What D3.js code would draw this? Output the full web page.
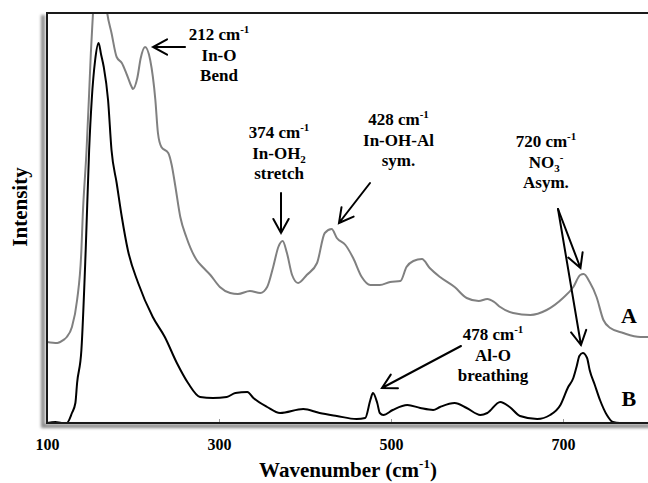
<!DOCTYPE html>
<html><head><meta charset="utf-8">
<script src="https://cdn.jsdelivr.net/npm/d3@7/dist/d3.min.js"></script>
<style>
body{margin:0;background:#fff}
svg{display:block}
text{font-family:"Liberation Serif","Times New Roman",serif;font-weight:bold;fill:#000}
</style>
</head><body>
<svg id="chart" width="648" height="483"></svg>
<script>
// Series A (grey, upper trace)
const aWave = [100,112,119,123,129,135,140,141.5,146,149,151,153.5,156,161,166,170,175,181,187,193,198.5,200,205,209,214,220,226,229,233,241,245,249,255,262,274,281,290,301,313,322,336,348,356,363,369,374,379,385,392,402,414,423,431,437,447,456,466,476,487,499,511,518,526,536,545,557,574,588,602,612,620,627,642,662,681,700,712,720,724,731,739,747,755,770,790,800];
const aInt  = [81,80,83,86,96,123,173,206,273,330,370,410,450,480,440,410,390,366,360,348,336,334,345,365,376,363,323,290,276,270,258,238,206,186,163,156,148,136,130,129,132,130,136,156,176,182,170,148,140,148,160,190,194,185,178,165,146,138,138,141,142,156,162,164,155,146,136,125,122,124,121,116,110,108,113,125,136,148,149,141,126,103,95,90,86,86];
// Series B (black, lower trace)
const bWave = [100,110,117,123,129,133,135,140,145,149,152,156,160,163,166,171,175,181,187,194,206,223,237,251,264,278,293,309,319,333,340,356,371,398,417,437,460,470,476,479,484,487,491,502,519,534,549,557,574,588,604,612,627,638,650,670,685,697,706,712,716,719,723,728,731,737,743,751,758,766,800];
const bInt  = [0,1,0,0,10,20,40,73,173,273,323,363,380,368,356,323,273,240,206,173,140,106,86,60,40,26,25,26,30,31,25,16,10,14,10,7,4,5,23,30,20,10,8,13,18,15,13,16,20,15,8,10,21,16,7,4,8,18,36,45,57,67,70,65,53,38,23,8,1,0,0];

const xTicks = [100, 300, 500, 700];
const xDomain = [100, 800];
const yDomain = [0, 410];
const xTitle = "Wavenumber (cm^{-1})";
const yTitle = "Intensity";
const seriesNames = ["A", "B"];
const seriesColors = ["#808080", "#000000"];
const seriesLabelPos = [[776.7, 100], [776.7, 17]];

// annotation text blocks: [centre wavenumber, first-baseline intensity, lines]
const noteX = [300, 369.8, 508.7, 680.2, 618.6];
const noteY = [383, 285, 298, 276, 83];
const noteLines = [
  ["212 cm^{-1}", "In-O", "Bend"],
  ["374 cm^{-1}", "In-OH_{2}", "stretch"],
  ["428 cm^{-1}", "In-OH-Al", "sym."],
  ["720 cm^{-1}", "NO_{3}^{-}", "Asym."],
  ["478 cm^{-1}", "Al-O", "breathing"]
];
// arrows: [from wavenumber, from intensity, to wavenumber, to intensity]
const arrows = [
  [260.5, 376, 223.3, 376],
  [372.1, 230, 372.1, 190],
  [475.6, 240, 439.5, 200],
  [694.2, 214, 720.3, 155],
  [694.2, 214, 720.9, 78],
  [581.4, 77, 489.5, 35]
];

const svg = d3.select("#chart");
const L = 47, R = 649, T = 13, B = 423;
const x = d3.scaleLinear().domain(xDomain).range([L, R]);
const y = d3.scaleLinear().domain(yDomain).range([B, T]);

const defs = svg.append("defs");
defs.append("clipPath").attr("id", "clip").append("rect")
  .attr("x", L).attr("y", T).attr("width", R - L + 5).attr("height", B - T);
const f = defs.append("filter").attr("id", "shadow").attr("x", "-20%").attr("y", "-20%").attr("width", "140%").attr("height", "140%");
f.append("feGaussianBlur").attr("stdDeviation", 1.8);

// frame shadow (left + bottom)
svg.append("path")
  .attr("d", `M${L - 4},${T + 2} L${L - 4},${B + 3} L${R + 5},${B + 3}`)
  .attr("fill", "none").attr("stroke", "#8a8a8a").attr("stroke-width", 4)
  .attr("filter", "url(#shadow)");

// axis with inward ticks
const ax = svg.append("g").attr("transform", `translate(0,${B})`)
  .call(d3.axisBottom(x).tickValues(xTicks).tickSizeInner(-4).tickSizeOuter(0).tickPadding(16).tickFormat(d3.format("d")));
ax.select(".domain").remove();
ax.selectAll(".tick line").attr("stroke", "#999").attr("stroke-width", 1);
ax.selectAll(".tick text").style("font-size", "16px").style("font-family", '"Liberation Serif","Times New Roman",serif').style("font-weight", "bold").attr("fill", "#000");

// series
const line = d3.line().x(d => x(d[0])).y(d => y(d[1])).curve(d3.curveMonotoneX);
const plot = svg.append("g").attr("clip-path", "url(#clip)");
const seriesData = [d3.zip(aWave, aInt), d3.zip(bWave, bInt)];
seriesData.forEach((d, i) => {
  plot.append("path").datum(d).attr("d", line)
    .attr("fill", "none").attr("stroke", seriesColors[i]).attr("stroke-width", 2)
    .attr("stroke-linejoin", "round");
});

// frame
svg.append("path")
  .attr("d", `M${R + 5},${T} L${L},${T} L${L},${B} L${R + 5},${B}`)
  .attr("fill", "none").attr("stroke", "#1a1a1a").attr("stroke-width", 2);

// rich text helper
function rich(sel, str, size) {
  const parts = str.split(/(\^\{[^}]*\}|_\{[^}]*\})/).filter(s => s.length);
  let shift = 0;
  parts.forEach(p => {
    let target = 0, fs = size, t = p;
    if (p.startsWith("^{")) { target = -Math.round(size * 0.42); fs = Math.round(size * 0.62); t = p.slice(2, -1); }
    else if (p.startsWith("_{")) { target = Math.round(size * 0.25); fs = Math.round(size * 0.62); t = p.slice(2, -1); }
    sel.append("tspan").attr("dy", target - shift).style("font-size", fs + "px").text(t);
    shift = target;
  });
}

// annotation texts
noteLines.forEach((lines, i) => {
  lines.forEach((ln, j) => {
    const t = svg.append("text").attr("x", x(noteX[i])).attr("y", y(noteY[i]) + j * 20.5)
      .attr("text-anchor", "middle").style("font-size", "17px");
    rich(t, ln, 17);
  });
});

// arrows
const ag = svg.append("g").attr("stroke", "#000").attr("stroke-width", 2).attr("fill", "none").attr("stroke-linecap", "round");
arrows.forEach(a => {
  const x1 = x(a[0]), y1 = y(a[1]), x2 = x(a[2]), y2 = y(a[3]);
  const ang = Math.atan2(y2 - y1, x2 - x1);
  const hl = 16, ha = 0.5;
  const h1 = [x2 - hl * Math.cos(ang - ha), y2 - hl * Math.sin(ang - ha)];
  const h2 = [x2 - hl * Math.cos(ang + ha), y2 - hl * Math.sin(ang + ha)];
  ag.append("path").attr("d", `M${x1},${y1} L${x2},${y2} M${h1[0]},${h1[1]} L${x2},${y2} L${h2[0]},${h2[1]}`);
});

// series labels
seriesNames.forEach((n, i) => {
  svg.append("text").attr("x", x(seriesLabelPos[i][0])).attr("y", y(seriesLabelPos[i][1]))
    .attr("text-anchor", "middle").style("font-size", "22px").text(n);
});

// axis titles
const xt = svg.append("text").attr("x", (L + R) / 2).attr("y", 477).attr("text-anchor", "middle").style("font-size", "21px");
rich(xt, xTitle, 21);
svg.append("text").attr("transform", `translate(27,207) rotate(-90)`).attr("text-anchor", "middle")
  .style("font-size", "21px").text(yTitle);
</script>
</body></html>
